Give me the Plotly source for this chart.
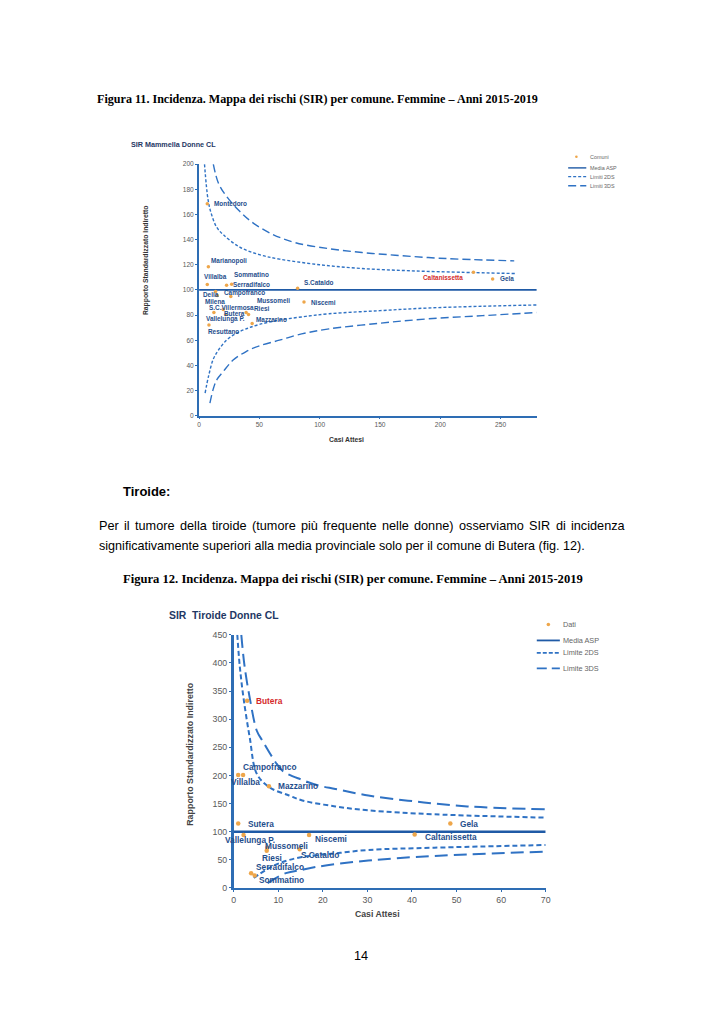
import plotly.graph_objects as go

W, H = 724, 1024

# ---------------- Figura 11: SIR Mammella Donne CL ----------------
m_comuni = ["Montedoro", "Marianopoli", "Villalba", "Sommatino", "Serradifalco", "S.Cataldo",
            "Caltanissetta", "Gela", "Delia", "Campofranco", "Milena", "Mussomeli", "Niscemi",
            "S.C.Villermosa", "Butera", "Vallelunga P.", "Riesi", "Mazzarino", "Resuttano"]
m_attesi = [6.8, 7.7, 6.8, 27, 22.8, 81.7, 227.5, 243.4, 13.7, 26.3, 15, 39, 87,
            12.3, 20, 22, 41, 44, 8.2]
m_sir = [168.5, 118.4, 104.2, 104.5, 103.7, 101.3, 114, 108.7, 98.7, 94.8, 95.5, 82, 90.3,
         82, 84.5, 80.5, 80.5, 73.2, 72]

m_media_x = [0, 280]
m_media_y = [100, 100]
m_up2_x = [4.5, 7.4, 10, 14.5, 20, 33.7, 50, 66.6, 100, 135, 175, 217, 262]
m_up2_y = [200, 172, 161, 150, 144, 134, 128, 124.5, 120, 117, 115.2, 114, 113]
m_up3_x = [11.8, 16, 22.8, 33.7, 44.7, 61.1, 80, 107.7, 135.1, 162.6, 190, 217.4, 261.3]
m_up3_y = [200, 185, 174.3, 162.5, 153.3, 144.1, 137.5, 132.8, 129.7, 127.6, 125.7, 124.4, 123.1]
m_lo2_x = [5, 8, 11.8, 16, 22.7, 30, 39, 50, 66.6, 85, 107.7, 150, 190, 235, 280]
m_lo2_y = [18, 32, 45, 52, 60, 65, 69, 72.5, 76, 78.5, 81, 83.5, 85.6, 87, 88]
m_lo3_x = [9, 12, 15, 20, 28, 39, 50, 66.6, 85, 107.7, 150, 190, 235, 280]
m_lo3_y = [10, 22, 29, 35, 44, 51, 55.5, 60, 65, 69, 73.5, 77, 79.5, 82]
m_xticks = [0, 50, 100, 150, 200, 250]
m_yticks = [0, 20, 40, 60, 80, 100, 120, 140, 160, 180, 200]

# ---------------- Figura 12: SIR Tiroide Donne CL ----------------
t_comuni = ["Butera", "Campofranco", "Villalba", "Mazzarino", "Sutera", "Gela", "Vallelunga P.",
            "Niscemi", "Caltanissetta", "Mussomeli", "Riesi", "S.Cataldo", "Serradifalco", "Sommatino"]
t_attesi = [3.0, 1.0, 2.1, 7.9, 1.0, 48.6, 2.2, 16.9, 40.6, 7.5, 7.4, 14.8, 3.9, 4.7]
t_sir = [332.8, 201, 201, 180.8, 114.5, 114.5, 94, 94, 95, 71.6, 66.4, 68.7, 26.4, 22.4]

t_media_x = [0, 70]
t_media_y = [100, 100]
t_up2_x = [0.8, 1.33, 2.2, 3.6, 5.2, 8, 12.4, 15.4, 22.8, 30.2, 45, 70]
t_up2_y = [450, 396, 337.5, 267, 202.5, 179, 164.4, 155.6, 145, 138, 131, 125]
t_up3_x = [1.7, 2.4, 3.6, 5.2, 6.5, 8.7, 11, 15.4, 19.1, 22.8, 30.2, 40.6, 52.4, 70]
t_up3_y = [450, 396, 337.5, 279, 261, 232, 208, 192, 182, 176, 164.4, 153.9, 145, 139.8]
t_lo2_x = [4.5, 7.3, 10.2, 13.9, 16.9, 22.8, 30.2, 45, 70]
t_lo2_y = [18, 32.4, 44, 52.8, 57, 61.6, 67.6, 71.6, 76.4]
t_lo3_x = [7.6, 11.7, 15.4, 19.1, 30.2, 45, 70]
t_lo3_y = [8.8, 26.4, 32.4, 38.2, 48.8, 57, 64.6]
t_xticks = [0, 10, 20, 30, 40, 50, 60, 70]
t_yticks = [0, 50, 100, 150, 200, 250, 300, 350, 400, 450]

# ---------------- styles ----------------
SANS = "Liberation Sans, Arial, sans-serif"
SERIF = "Liberation Serif, Times New Roman, serif"
DOT = "#eea64a"
LINE = "#2f72c4"
MEAN = "#1f5aa6"
AXIS = "#2e6db4"
LBL = "#1f4e8c"
RED = "#d42a2a"
TICK = "#595959"

# label placement (xanchor, xshift, yshift) in pixels, for each comune
m_lbl_pos = {
    "Montedoro": ("left", 5, 0), "Marianopoli": ("left", 1, 6), "Villalba": ("left", -5, 8),
    "Sommatino": ("left", 0, 9.6), "Serradifalco": ("left", 4, 1), "S.Cataldo": ("left", 4, 6),
    "Caltanissetta": ("right", -8, -5), "Gela": ("left", 5, 0), "Delia": ("left", -15, -3),
    "Campofranco": ("left", -9, 3.6), "Milena": ("left", -14, -6), "Mussomeli": ("left", 9, 11.6),
    "Niscemi": ("left", 5, 0), "S.C.Villermosa": ("left", -7, 5), "Butera": ("left", -1, -4),
    "Vallelunga P.": ("left", -22, -5), "Riesi": ("left", 3, 6), "Mazzarino": ("left", 2, 4),
    "Resuttano": ("left", -3, -6),
}
t_lbl_pos = {
    "Butera": ("left", 7, 0), "Campofranco": ("left", 2.5, 7.5), "Villalba": ("center", 2, -7.5),
    "Mazzarino": ("left", 7, 0), "Sutera": ("left", 8, 0), "Gela": ("left", 8, 0),
    "Vallelunga P.": ("center", 6, -4.5), "Niscemi": ("left", 4, -3.5),
    "Caltanissetta": ("left", 8, -2), "Mussomeli": ("left", -4, 2), "Riesi": ("left", -7, -7),
    "S.Cataldo": ("left", -1, -6), "Serradifalco": ("left", 3, 6), "Sommatino": ("left", 2, -5),
}
m_red = {"Caltanissetta"}
t_red = {"Butera"}


def X(p):
    return p / W


def Y(p):
    return 1 - p / H


fig = go.Figure()


def add_chart(xa, ya, att, sir, mx, my, u2x, u2y, u3x, u3y, l2x, l2y, l3x, l3y,
              dotsize, lw, dash2, dash3, names):
    ax = dict(xaxis=xa, yaxis=ya, showlegend=False, hoverinfo="skip")
    fig.add_trace(go.Scatter(x=u2x, y=u2y, mode="lines", line=dict(color=LINE, width=lw, dash=dash2, shape="spline"), **ax))
    fig.add_trace(go.Scatter(x=l2x, y=l2y, mode="lines", line=dict(color=LINE, width=lw, dash=dash2, shape="spline"), **ax))
    fig.add_trace(go.Scatter(x=u3x, y=u3y, mode="lines", line=dict(color=LINE, width=lw, dash=dash3, shape="spline"), **ax))
    fig.add_trace(go.Scatter(x=l3x, y=l3y, mode="lines", line=dict(color=LINE, width=lw, dash=dash3, shape="spline"), **ax))
    fig.add_trace(go.Scatter(x=mx, y=my, mode="lines", line=dict(color=MEAN, width=lw + 0.3), **ax))
    fig.add_trace(go.Scatter(x=att, y=sir, mode="markers", marker=dict(color=DOT, size=dotsize),
                             text=names, cliponaxis=False, **ax))


add_chart("x", "y", m_attesi, m_sir, m_media_x, m_media_y, m_up2_x, m_up2_y, m_up3_x, m_up3_y,
          m_lo2_x, m_lo2_y, m_lo3_x, m_lo3_y, 3.5, 1.4, "3px,2px", "8px,4px", m_comuni)
add_chart("x2", "y2", t_attesi, t_sir, t_media_x, t_media_y, t_up2_x, t_up2_y, t_up3_x, t_up3_y,
          t_lo2_x, t_lo2_y, t_lo3_x, t_lo3_y, 4.5, 2.0, "5px,3px", "13px,6px", t_comuni)

annotations = []
for n, xv, yv in zip(m_comuni, m_attesi, m_sir):
    anc, xs, ys = m_lbl_pos[n]
    annotations.append(dict(x=xv, y=yv, xref="x", yref="y", text=n, showarrow=False,
                            xanchor=anc, yanchor="middle", xshift=xs, yshift=ys,
                            font=dict(family=SANS, size=6.4, weight="bold",
                                      color=RED if n in m_red else LBL)))
for n, xv, yv in zip(t_comuni, t_attesi, t_sir):
    anc, xs, ys = t_lbl_pos[n]
    annotations.append(dict(x=xv, y=yv, xref="x2", yref="y2", text=n, showarrow=False,
                            xanchor=anc, yanchor="middle", xshift=xs, yshift=ys,
                            font=dict(family=SANS, size=8.3, weight="bold",
                                      color=RED if n in t_red else LBL)))


def txt(x, y, s, size, family=SANS, bold=False, color="#000", anchor="left", angle=0):
    annotations.append(dict(x=X(x), y=Y(y), xref="paper", yref="paper", text=s, showarrow=False,
                            xanchor=anchor, yanchor="middle", textangle=angle,
                            font=dict(family=family, size=size, color=color,
                                      weight="bold" if bold else "normal")))


# page text
cap = "Figura {}. Incidenza. Mappa dei rischi (SIR) per comune. Femmine \u2013 Anni 2015-2019"
txt(93.5, 95, cap.format(11), 12.1, SERIF, True)
txt(120.5, 580, cap.format(12), 12.6, SERIF, True)
txt(120, 491, "Tiroide:", 13, SANS, True)

line1 = ["Per", "il", "tumore", "della", "tiroide", "(tumore", "più", "frequente", "nelle",
         "donne)", "osserviamo", "SIR", "di", "incidenza"]
line1_x = [95.5, 121, 132.3, 177.6, 210.1, 250.4, 299.9, 322.6, 381.9, 414.5, 459.7, 530.4, 557.3, 572.9]
for w_, x_ in zip(line1, line1_x):
    txt(x_, 526, w_, 12.7)
txt(95.5, 546, "significativamente superiori alla media provinciale solo per il comune di Butera (fig. 12).", 12.6)
txt(362, 960, "14", 12.7, anchor="center")

# chart titles and axis titles
txt(128.5, 141, "SIR Mammella Donne CL", 7.2, SANS, True, "#1f3864")
txt(146, 258, "Rapporto Standardizzato Indiretto", 6.8, SANS, True, "#333333", "center", -90)
txt(347.5, 438.3, "Casi Attesi", 6.8, SANS, True, "#333333", "center")

txt(166.5, 617, "SIR&nbsp;&nbsp;Tiroide Donne CL", 10.4, SANS, True, "#1f3864")
txt(189, 756, "Rapporto Standardizzato Indiretto", 8.9, SANS, True, "#444444", "center", -90)
txt(379, 918.3, "Casi Attesi", 8.7, SANS, True, "#444444", "center")

# legends (drawn as small keys)
shapes = []


def legend(dot_xy, dot_r, x0, x1, ys, text_x, labels, size, lw, dashes):
    cx, cy = dot_xy
    shapes.append(dict(type="circle", xref="paper", yref="paper",
                       x0=X(cx - dot_r), x1=X(cx + dot_r), y0=Y(cy + dot_r), y1=Y(cy - dot_r),
                       fillcolor=DOT, line=dict(width=0)))
    txt(text_x, cy, labels[0], size, SANS, False, "#666666")
    for yy, lab, d in zip(ys, labels[1:], dashes):
        shapes.append(dict(type="line", xref="paper", yref="paper", x0=X(x0), x1=X(x1), y0=Y(yy), y1=Y(yy),
                           line=dict(color=MEAN if d == "solid" else LINE, width=lw, dash=d)))
        txt(text_x, yy, lab, size, SANS, False, "#666666")


legend((580, 153.3), 1.3, 571.7, 590, [164.5, 173.3, 182.5], 591.5,
       ["Comuni", "Media ASP", "Limiti 2DS", "Limiti 3DS"], 5.4, 1.4, ["solid", "3px,2px", "8px,4px"])
legend((551.7, 625.7), 1.8, 540, 563.3, [641.7, 654.3, 670], 564.5,
       ["Dati", "Media ASP", "Limite 2DS", "Limite 3DS"], 7.3, 1.8, ["solid", "4px,2px", "10px,5px"])


def axis(domain, rng, ticks, anchor, size, lw):
    return dict(domain=domain, range=rng, anchor=anchor, tickvals=ticks, showline=True,
                linecolor=AXIS, linewidth=lw, showgrid=False, zeroline=False, ticks="outside",
                ticklen=2, tickcolor=AXIS, tickwidth=1,
                tickfont=dict(family=SANS, size=size, color=TICK), fixedrange=True)


fig.update_layout(
    width=W, height=H, margin=dict(l=0, r=0, t=0, b=0),
    paper_bgcolor="white", plot_bgcolor="white", showlegend=False,
    xaxis=axis([X(199), X(540)], [0, 280], m_xticks, "y", 6.6, 1.5),
    yaxis=axis([Y(414.7), Y(160.7)], [0, 200], m_yticks, "x", 6.6, 2),
    xaxis2=axis([X(234), X(549)], [0, 70], t_xticks, "y2", 8.8, 2.2),
    yaxis2=axis([Y(891.7), Y(636)], [0, 450], t_yticks, "x2", 8.8, 2.5),
    annotations=annotations, shapes=shapes,
)

fig.write_html("out.html", config={"displayModeBar": False},
               post_script="document.body.style.margin='0';document.body.style.padding='0';"
                           "document.body.style.overflow='hidden';")
